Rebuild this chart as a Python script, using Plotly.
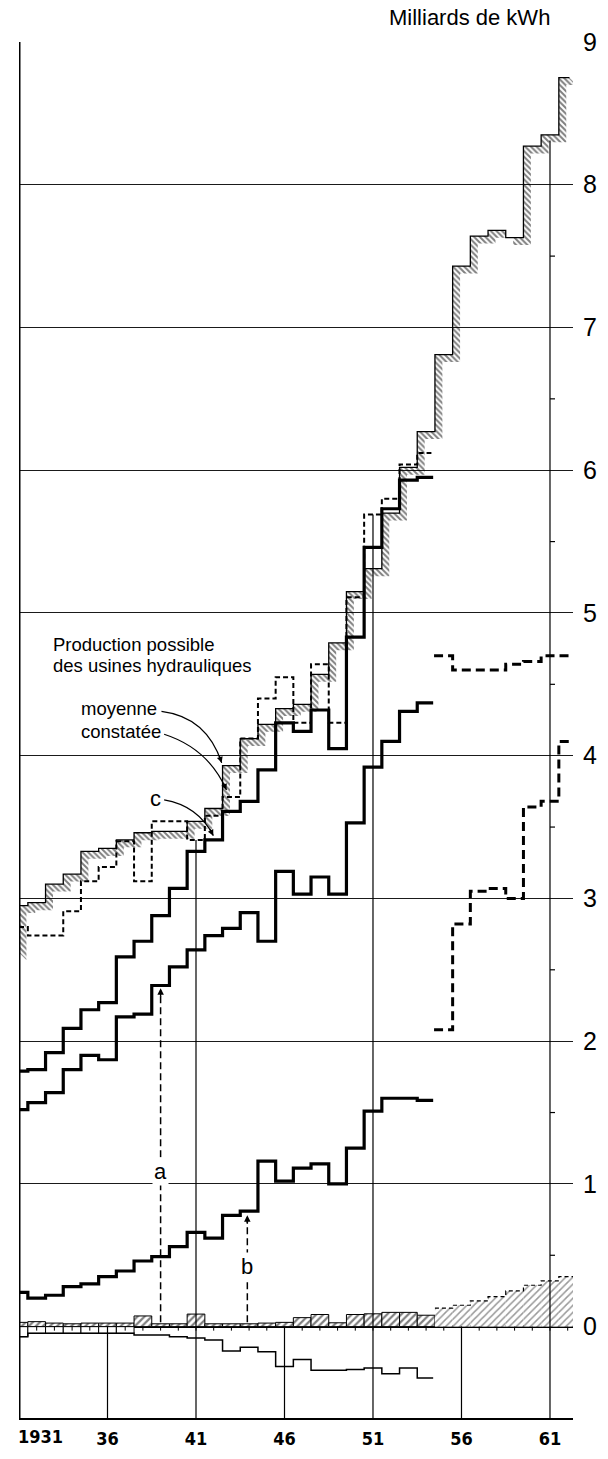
import plotly.graph_objects as go
import math

# ---------------- data ----------------
years_a = list(range(1931, 1955))          # 1931 .. 1954
line_c = [1.79, 1.80, 1.92, 2.09, 2.22, 2.27, 2.59, 2.70, 2.88, 3.07, 3.33, 3.41,
          3.61, 3.68, 3.90, 4.23, 4.17, 4.32, 4.05, 4.83, 5.46, 5.73, 5.93, 5.95]
line_mid = [1.52, 1.57, 1.64, 1.80, 1.90, 1.87, 2.17, 2.19, 2.39, 2.52, 2.64, 2.74,
            2.79, 2.90, 2.70, 3.19, 3.03, 3.15, 3.03, 3.53, 3.92, 4.10, 4.31, 4.37]
line_low = [0.24, 0.20, 0.22, 0.28, 0.30, 0.35, 0.39, 0.46, 0.49, 0.56, 0.66, 0.62,
            0.78, 0.81, 1.16, 1.02, 1.11, 1.14, 1.00, 1.25, 1.51, 1.60, 1.60, 1.585]
constatee = [2.80, 2.74, 2.74, 2.91, 3.12, 3.22, 3.40, 3.12, 3.54, 3.54, 3.41, 3.58,
             3.71, 4.12, 4.40, 4.55, 4.23, 4.64, 4.23, 5.11, 5.69, 5.80, 6.04, 6.12]
negative = [-0.07, -0.047, -0.047, -0.047, -0.047, -0.047, -0.047, -0.058, -0.058, -0.07,
            -0.08, -0.093, -0.17, -0.145, -0.175, -0.28, -0.23, -0.305, -0.305, -0.30,
            -0.29, -0.33, -0.29, -0.36]
small_bars = [0.03, 0.035, 0.025, 0.02, 0.025, 0.025, 0.025, 0.075, 0.02, 0.02, 0.088, 0.02,
              0.02, 0.02, 0.025, 0.03, 0.063, 0.085, 0.027, 0.085, 0.09, 0.10, 0.10, 0.08]

years_h = list(range(1931, 1963))          # 1931 .. 1962
possible_start = 2.62
possible = [2.95, 2.97, 3.10, 3.17, 3.33, 3.35, 3.41, 3.46, 3.47, 3.47, 3.54, 3.63,
            3.93, 4.12, 4.22, 4.33, 4.36, 4.57, 4.79, 5.15, 5.31, 5.70, 6.02, 6.27,
            6.81, 7.43, 7.64, 7.68, 7.63, 8.27, 8.35, 8.75]

years_f = list(range(1955, 1963))          # 1955 .. 1962
future_upper = [4.70, 4.60, 4.60, 4.60, 4.64, 4.66, 4.70, 4.70]
future_lower = [2.08, 2.82, 3.05, 3.07, 3.00, 3.64, 3.68, 4.10]
future_bars = [0.13, 0.15, 0.18, 0.21, 0.25, 0.29, 0.32, 0.35]

x_ticks = [1931, 1936, 1941, 1946, 1951, 1956, 1961]
x_ticktext = ["1931", "36", "41", "46", "51", "56", "61"]
y_ticks = list(range(0, 10))

X0, X1 = 1931, 1962.3
Y0, Y1 = -0.64, 9
PX_YEAR, PX_UNIT = 17.7, 142.8


def hv_xy(years, vals, x_start, x_end):
    x = [x_start] + [yr - 0.5 for yr in years[1:]] + [x_end]
    y = list(vals) + [vals[-1]]
    return x, y


def step_points(x, y):
    px, py = [x[0]], [y[0]]
    for i in range(1, len(x)):
        px += [x[i], x[i]]
        py += [y[i - 1], y[i]]
    return px, py


fig = go.Figure()

# small hatched bars near zero
fig.add_trace(go.Bar(x=years_a, y=small_bars, width=1,
                     marker=dict(color="white", line=dict(color="black", width=1),
                                 pattern=dict(shape="/", size=5, solidity=0.45,
                                              fgcolor="black", bgcolor="white")),
                     hoverinfo="skip"))
fig.add_trace(go.Bar(x=years_f, y=future_bars, width=1,
                     marker=dict(color="white", line=dict(color="white", width=0),
                                 pattern=dict(shape="/", size=5, solidity=0.3,
                                              fgcolor="#333", bgcolor="white")),
                     hoverinfo="skip"))
fx, fy = hv_xy(years_f, future_bars, 1954.5, 1962.5)
fig.add_trace(go.Scatter(x=fx, y=fy, mode="lines", line_shape="hv",
                         line=dict(color="black", width=1.2, dash="4px,3px"),
                         hoverinfo="skip"))

# negative series: small boxes for the first years, then a thin step line
fig.add_trace(go.Bar(x=years_a[:7], y=negative[:7], width=1,
                     marker=dict(color="white", line=dict(color="black", width=1)),
                     hoverinfo="skip"))
nx, ny = hv_xy(years_a, negative, 1931, 1954.4)
fig.add_trace(go.Scatter(x=nx, y=ny, mode="lines", line_shape="hv",
                         line=dict(color="black", width=1.5), hoverinfo="skip"))

# hatched band of the "production possible" series
hx, hy = hv_xy(years_h, possible, 1931, 1962.1)
hx = [1931] + hx
hy = [possible_start] + hy
ppx, ppy = step_points(hx, hy)
dx, dy = 0.42, 0.052
band_x = ppx + [v + dx for v in reversed(ppx)]
band_y = ppy + [v - dy for v in reversed(ppy)]
fig.add_trace(go.Scatter(x=band_x, y=band_y, mode="lines", fill="toself",
                         fillcolor="rgba(255,255,255,0)",
                         fillpattern=dict(shape="\\", size=4, solidity=0.5,
                                          fgcolor="black", bgcolor="rgba(255,255,255,0)"),
                         line=dict(width=0, color="rgba(0,0,0,0)"), hoverinfo="skip"))
fig.add_trace(go.Scatter(x=hx, y=hy, mode="lines", line_shape="hv",
                         line=dict(color="black", width=1.3), hoverinfo="skip"))

# dashed "constatée" series
cx_, cy_ = hv_xy(years_a, constatee, 1931, 1954.3)
fig.add_trace(go.Scatter(x=cx_, y=cy_, mode="lines", line_shape="hv",
                         line=dict(color="black", width=2, dash="5px,3px"),
                         hoverinfo="skip"))

# thick solid lines
for vals in (line_c, line_mid, line_low):
    lx, ly = hv_xy(years_a, vals, 1931, 1954.4)
    fig.add_trace(go.Scatter(x=lx, y=ly, mode="lines", line_shape="hv",
                             line=dict(color="black", width=3.2), hoverinfo="skip"))

# dashed forecast lines
for vals in (future_upper, future_lower):
    ux, uy = hv_xy(years_f, vals, 1954.45, 1962.5)
    fig.add_trace(go.Scatter(x=ux, y=uy, mode="lines", line_shape="hv",
                             line=dict(color="black", width=3, dash="9px,5px"),
                             hoverinfo="skip"))

# dashed arrows a and b
arrow_a_x, arrow_a_top = 1939.0, 2.37
arrow_b_x, arrow_b_top = 1943.9, 0.78
for ax_, top in ((arrow_a_x, arrow_a_top), (arrow_b_x, arrow_b_top)):
    fig.add_trace(go.Scatter(x=[ax_, ax_], y=[0.03, top - 0.03], mode="lines",
                             line=dict(color="black", width=1.5, dash="7px,4px"),
                             hoverinfo="skip"))

shapes = []
# left axis line
shapes.append(dict(type="line", xref="x", yref="y", x0=X0, x1=X0, y0=Y0, y1=Y1,
                   line=dict(color="black", width=3)))
# vertical year lines
for yr in (1936, 1946, 1956):
    shapes.append(dict(type="line", xref="x", yref="y", x0=yr, x1=yr, y0=Y0, y1=0,
                       line=dict(color="black", width=1.2)))
tops = {1941: constatee[years_a.index(1941)], 1951: constatee[years_a.index(1951)],
        1961: possible[years_h.index(1961)] - 0.04}
for yr, top in tops.items():
    shapes.append(dict(type="line", xref="x", yref="y", x0=yr, x1=yr, y0=Y0, y1=top,
                       line=dict(color="black", width=1.2)))
# half-unit ticks on the 1961 line
for k in range(0, 8):
    v = k + 0.5
    shapes.append(dict(type="line", xref="x", yref="y", x0=1961, x1=1961 + 5 / PX_YEAR,
                       y0=v, y1=v, line=dict(color="black", width=1.2)))
# yearly ticks on the zero line
for yr in range(1932, 1963):
    shapes.append(dict(type="line", xref="x", yref="y", x0=yr, x1=yr, y0=0,
                       y1=-4 / PX_UNIT, line=dict(color="black", width=1)))

# curved arrows (quadratic curves) for the annotations
curves = [
    ((1939.05, 4.31), (1941.6, 4.27), (1942.45, 3.95)),   # moyenne
    ((1939.2, 4.15), (1941.7, 4.05), (1942.72, 3.76)),    # constatée
    ((1939.2, 3.69), (1941.1, 3.65), (1941.98, 3.44)),    # c
]
annotations = []
for (x0, y0), (qx, qy), (x1, y1) in curves:
    shapes.append(dict(type="path", xref="x", yref="y",
                       path=f"M {x0},{y0} Q {qx},{qy} {x1},{y1}",
                       line=dict(color="black", width=1.2)))
    tx = (x1 - qx) * PX_YEAR
    ty = -(y1 - qy) * PX_UNIT
    n = math.hypot(tx, ty)
    annotations.append(dict(x=x1, y=y1, xref="x", yref="y", text="", showarrow=True,
                            ax=-tx / n * 9, ay=-ty / n * 9, arrowhead=2, arrowsize=1,
                            arrowwidth=1.2, arrowcolor="black"))

# arrow heads of a and b
for ax_, top in ((arrow_a_x, arrow_a_top), (arrow_b_x, arrow_b_top)):
    annotations.append(dict(x=ax_, y=top, xref="x", yref="y", text="", showarrow=True,
                            ax=0, ay=10, arrowhead=2, arrowsize=1, arrowwidth=1.3,
                            arrowcolor="black"))

txt_font = dict(family="Liberation Sans, Arial, sans-serif", size=18.5, color="black")
for text, x, y in (("Production possible", 1932.8, 4.78),
                   ("des usines hydrauliques", 1932.8, 4.635),
                   ("moyenne", 1934.4, 4.33),
                   ("constatée", 1934.4, 4.17)):
    annotations.append(dict(x=x, y=y, xref="x", yref="y", text=text, showarrow=False,
                            xanchor="left", yanchor="middle", font=txt_font))
for text, x, y in (("c", 1938.7, 3.70), ("a", arrow_a_x, 1.09), ("b", arrow_b_x, 0.42)):
    annotations.append(dict(x=x, y=y, xref="x", yref="y", text=text, showarrow=False,
                            xanchor="center", yanchor="middle", bgcolor="white",
                            font=dict(family="Liberation Sans, Arial, sans-serif",
                                      size=22, color="black")))
annotations.append(dict(x=0.814, y=1.018, xref="paper", yref="paper",
                        text="Milliards de kWh", showarrow=False,
                        xanchor="center", yanchor="middle",
                        font=dict(family="Liberation Sans, Arial, sans-serif",
                                  size=22, color="black")))

tick_font = dict(family="Liberation Sans Narrow, DejaVu Sans Condensed, Liberation Sans, sans-serif",
                 size=18, color="black")
# first year label sits to the right of its tick (left edge of the chart)
annotations.append(dict(x=-0.006, y=-0.0135, xref="paper", yref="paper",
                        text=f"<b>{x_ticktext[0]}</b>", showarrow=False,
                        xanchor="left", yanchor="middle", font=tick_font))

fig.update_layout(
    width=608, height=1459,
    margin=dict(l=19, r=35, t=42, b=41, autoexpand=False),
    plot_bgcolor="white", paper_bgcolor="white",
    showlegend=False, barmode="overlay",
    shapes=shapes, annotations=annotations,
    xaxis=dict(range=[X0, X1], showgrid=False, zeroline=False, showline=True,
               linecolor="black", linewidth=2, ticks="", automargin=False,
               tickvals=x_ticks[1:], ticktext=[f"<b>{t}</b>" for t in x_ticktext[1:]],
               tickfont=tick_font,
               ticklabelstandoff=3, fixedrange=True),
    yaxis=dict(range=[Y0, Y1], side="right", tickvals=y_ticks, automargin=False,
               showgrid=True, gridcolor="#1a1a1a", gridwidth=1.2,
               zeroline=True, zerolinecolor="black", zerolinewidth=3,
               showline=False, ticks="",
               tickfont=dict(family="Liberation Sans, Arial, sans-serif", size=25,
                             color="black"),
               ticklabelstandoff=9, fixedrange=True),
)

fig.write_html("out.html")
